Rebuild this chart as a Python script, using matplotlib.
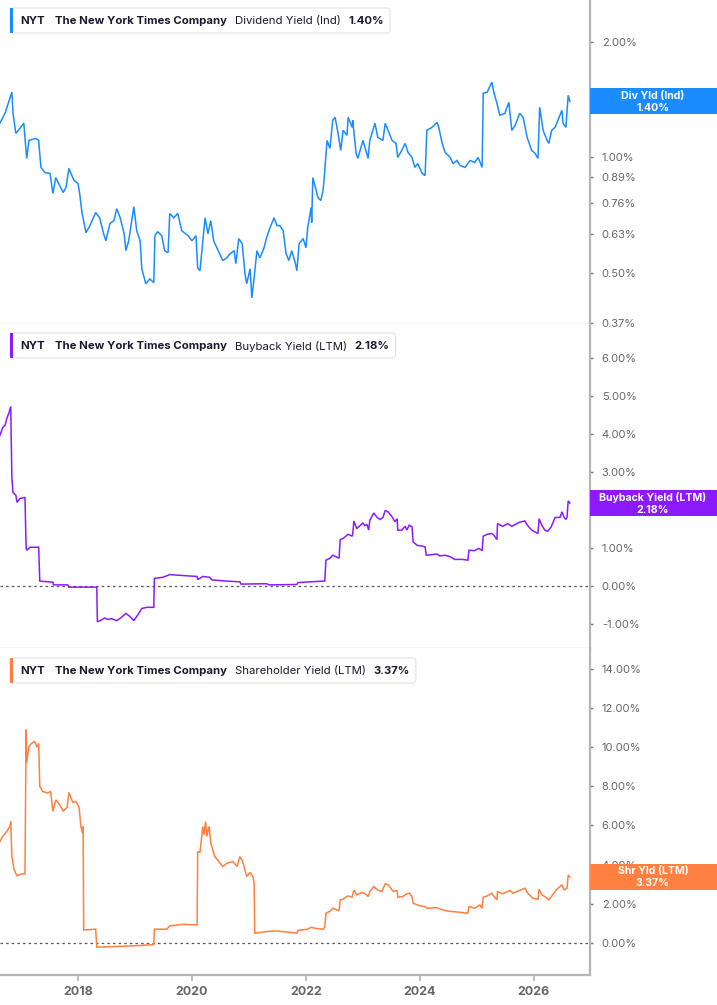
import matplotlib
matplotlib.use("Agg")
import matplotlib.pyplot as plt
from matplotlib.patches import Rectangle, FancyBboxPatch
from matplotlib.ticker import NullLocator, FuncFormatter, FixedLocator

plt.rcParams['font.family'] = ['Inter', 'DejaVu Sans']

# ---------------- data (decimal years, yield in %) ----------------
div_years = [2016.63, 2016.72, 2016.84, 2016.86, 2016.91, 2016.98, 2017.05, 2017.10, 2017.14, 2017.26,
             2017.31, 2017.35, 2017.42, 2017.51, 2017.56, 2017.61, 2017.74, 2017.79, 2017.84, 2017.93,
             2018.00, 2018.03, 2018.07, 2018.14, 2018.21, 2018.31, 2018.38, 2018.45, 2018.49, 2018.56,
             2018.63, 2018.68, 2018.74, 2018.81, 2018.84, 2018.89, 2018.98, 2019.03, 2019.09, 2019.12,
             2019.19, 2019.26, 2019.33, 2019.35, 2019.40, 2019.47, 2019.52, 2019.58, 2019.61, 2019.68,
             2019.75, 2019.82, 2019.93, 2020.00, 2020.07, 2020.10, 2020.14, 2020.19, 2020.23, 2020.28,
             2020.33, 2020.38, 2020.46, 2020.54, 2020.61, 2020.67, 2020.74, 2020.77, 2020.82, 2020.88,
             2020.93, 2020.96, 2021.02, 2021.05, 2021.09, 2021.14, 2021.19, 2021.26, 2021.31, 2021.37,
             2021.44, 2021.49, 2021.54, 2021.60, 2021.65, 2021.70, 2021.75, 2021.81, 2021.84, 2021.88,
             2021.95, 2022.00, 2022.03, 2022.09, 2022.10, 2022.12, 2022.21, 2022.26, 2022.30, 2022.33,
             2022.37, 2022.42, 2022.47, 2022.51, 2022.56, 2022.61, 2022.65, 2022.72, 2022.74, 2022.81,
             2022.82, 2022.88, 2022.91, 2023.00, 2023.05, 2023.09, 2023.12, 2023.21, 2023.26, 2023.35,
             2023.39, 2023.44, 2023.51, 2023.58, 2023.61, 2023.68, 2023.74, 2023.79, 2023.86, 2023.91,
             2023.96, 2024.04, 2024.09, 2024.12, 2024.21, 2024.30, 2024.33, 2024.39, 2024.44, 2024.53,
             2024.58, 2024.65, 2024.70, 2024.79, 2024.88, 2024.96, 2025.02, 2025.09, 2025.11, 2025.18,
             2025.21, 2025.26, 2025.30, 2025.35, 2025.40, 2025.49, 2025.56, 2025.61, 2025.67, 2025.75,
             2025.81, 2025.88, 2025.96, 2026.02, 2026.07, 2026.10, 2026.16, 2026.23, 2026.26, 2026.31,
             2026.37, 2026.42, 2026.49, 2026.51, 2026.56, 2026.60, 2026.63]
div_yield = [1.228, 1.304, 1.480, 1.304, 1.155, 1.191, 1.228, 0.994, 1.108, 1.121,
             1.108, 0.942, 0.913, 0.908, 0.805, 0.886, 0.810, 0.835, 0.936, 0.871,
             0.855, 0.805, 0.718, 0.636, 0.664, 0.718, 0.696, 0.632, 0.606, 0.672,
             0.684, 0.735, 0.696, 0.632, 0.571, 0.606, 0.744, 0.644, 0.606, 0.512,
             0.468, 0.482, 0.471, 0.625, 0.640, 0.625, 0.571, 0.564, 0.714, 0.696,
             0.714, 0.644, 0.625, 0.606, 0.625, 0.515, 0.506, 0.606, 0.696, 0.632,
             0.684, 0.606, 0.571, 0.538, 0.547, 0.561, 0.571, 0.528, 0.614, 0.596,
             0.497, 0.468, 0.512, 0.430, 0.485, 0.571, 0.547, 0.578, 0.618, 0.656,
             0.696, 0.664, 0.664, 0.644, 0.561, 0.538, 0.571, 0.532, 0.506, 0.596,
             0.614, 0.581, 0.656, 0.740, 0.676, 0.886, 0.786, 0.772, 0.820, 0.925,
             1.108, 1.056, 1.250, 1.273, 1.163, 1.043, 1.177, 1.142, 1.273, 1.198,
             1.250, 1.024, 0.994, 1.108, 1.043, 0.994, 1.108, 1.228, 1.128, 1.108,
             1.228, 1.177, 1.108, 1.088, 1.000, 1.043, 1.088, 1.031, 1.000, 0.942,
             0.964, 0.908, 0.897, 1.177, 1.198, 1.235, 1.198, 1.088, 1.031, 1.000,
             0.964, 0.982, 0.953, 0.942, 0.982, 0.970, 1.000, 0.942, 1.471, 1.480,
             1.516, 1.572, 1.471, 1.385, 1.288, 1.304, 1.393, 1.177, 1.213, 1.304,
             1.273, 1.128, 1.043, 1.024, 0.994, 1.352, 1.177, 1.108, 1.088, 1.177,
             1.198, 1.250, 1.327, 1.228, 1.198, 1.453, 1.400]

buy_years = [2016.63, 2016.68, 2016.72, 2016.75, 2016.79, 2016.82, 2016.84, 2016.86, 2016.91, 2016.93,
             2016.98, 2017.07, 2017.09, 2017.10, 2017.16, 2017.31, 2017.33, 2017.56, 2017.57, 2017.82,
             2017.84, 2018.33, 2018.34, 2018.38, 2018.47, 2018.52, 2018.59, 2018.68, 2018.75, 2018.84,
             2018.91, 2018.98, 2019.05, 2019.12, 2019.21, 2019.33, 2019.34, 2019.49, 2019.61, 2019.91,
             2020.09, 2020.10, 2020.19, 2020.31, 2020.35, 2020.61, 2020.84, 2020.86, 2021.31, 2021.35,
             2021.84, 2021.86, 2022.07, 2022.33, 2022.35, 2022.42, 2022.47, 2022.54, 2022.58, 2022.60,
             2022.65, 2022.70, 2022.74, 2022.81, 2022.82, 2022.84, 2022.89, 2022.95, 2023.00, 2023.03,
             2023.07, 2023.10, 2023.12, 2023.19, 2023.25, 2023.30, 2023.35, 2023.39, 2023.44, 2023.51,
             2023.56, 2023.60, 2023.61, 2023.68, 2023.74, 2023.77, 2023.81, 2023.86, 2023.88, 2023.95,
             2024.04, 2024.09, 2024.11, 2024.30, 2024.35, 2024.44, 2024.53, 2024.61, 2024.74, 2024.84,
             2024.86, 2024.96, 2025.03, 2025.09, 2025.11, 2025.18, 2025.26, 2025.30, 2025.35, 2025.36,
             2025.45, 2025.54, 2025.61, 2025.75, 2025.84, 2025.89, 2025.96, 2026.07, 2026.09, 2026.14,
             2026.19, 2026.24, 2026.30, 2026.37, 2026.46, 2026.49, 2026.53, 2026.56, 2026.58, 2026.60,
             2026.63]
buy_yield = [3.96, 4.17, 4.22, 4.40, 4.56, 4.72, 2.86, 2.46, 2.39, 2.20,
             2.30, 2.33, 1.02, 0.94, 1.02, 1.02, 0.13, 0.10, 0.03, 0.03,
             -0.03, -0.03, -0.94, -0.92, -0.84, -0.88, -0.86, -0.91, -0.84, -0.72,
             -0.80, -0.91, -0.76, -0.59, -0.56, -0.56, 0.20, 0.23, 0.30, 0.27,
             0.25, 0.17, 0.25, 0.23, 0.16, 0.13, 0.11, 0.05, 0.06, 0.03,
             0.04, 0.09, 0.11, 0.13, 0.68, 0.73, 0.81, 0.76, 0.73, 1.22,
             1.25, 1.31, 1.36, 1.31, 1.36, 1.71, 1.51, 1.59, 1.66, 1.59,
             1.62, 1.47, 1.73, 1.92, 1.80, 1.75, 1.80, 1.99, 1.95, 1.82,
             1.69, 1.77, 1.47, 1.47, 1.57, 1.47, 1.60, 1.56, 1.16, 1.07,
             1.05, 1.03, 0.81, 0.84, 0.79, 0.81, 0.77, 0.70, 0.70, 0.68,
             0.94, 0.93, 0.99, 0.93, 1.31, 1.36, 1.38, 1.33, 1.22, 1.64,
             1.57, 1.64, 1.57, 1.68, 1.71, 1.59, 1.47, 1.38, 1.77, 1.59,
             1.47, 1.44, 1.55, 1.80, 1.81, 1.95, 1.80, 1.75, 1.81, 2.24,
             2.18]

shr_years = [2016.63, 2016.68, 2016.75, 2016.81, 2016.82, 2016.84, 2016.88, 2016.93, 2017.02, 2017.07,
             2017.09, 2017.10, 2017.14, 2017.19, 2017.24, 2017.28, 2017.31, 2017.33, 2017.38, 2017.47,
             2017.52, 2017.56, 2017.61, 2017.68, 2017.74, 2017.81, 2017.84, 2017.91, 2017.96, 2018.02,
             2018.05, 2018.08, 2018.09, 2018.10, 2018.31, 2018.33, 2018.61, 2018.96, 2019.33, 2019.34,
             2019.56, 2019.61, 2019.84, 2020.09, 2020.10, 2020.14, 2020.19, 2020.21, 2020.24, 2020.26,
             2020.30, 2020.33, 2020.40, 2020.47, 2020.54, 2020.61, 2020.72, 2020.79, 2020.84, 2020.89,
             2020.96, 2021.02, 2021.07, 2021.09, 2021.10, 2021.31, 2021.49, 2021.84, 2021.86, 2022.03,
             2022.09, 2022.19, 2022.30, 2022.33, 2022.35, 2022.42, 2022.47, 2022.54, 2022.58, 2022.60,
             2022.65, 2022.70, 2022.74, 2022.81, 2022.84, 2022.89, 2022.98, 2023.03, 2023.09, 2023.12,
             2023.19, 2023.25, 2023.33, 2023.39, 2023.44, 2023.53, 2023.60, 2023.61, 2023.70, 2023.77,
             2023.82, 2023.86, 2023.88, 2024.00, 2024.09, 2024.12, 2024.30, 2024.39, 2024.53, 2024.65,
             2024.84, 2024.86, 2024.96, 2025.05, 2025.09, 2025.11, 2025.18, 2025.26, 2025.30, 2025.35,
             2025.36, 2025.45, 2025.58, 2025.63, 2025.75, 2025.84, 2025.89, 2025.98, 2026.07, 2026.09,
             2026.14, 2026.23, 2026.26, 2026.33, 2026.40, 2026.49, 2026.53, 2026.58, 2026.60, 2026.63]
shr_yield = [5.18, 5.44, 5.69, 5.98, 6.20, 4.41, 3.73, 3.43, 3.53, 3.53,
             10.90, 9.19, 10.04, 10.21, 10.30, 10.00, 10.20, 8.00, 7.74, 7.66,
             7.74, 6.72, 7.31, 7.06, 6.72, 6.93, 7.69, 7.18, 7.23, 6.93,
             5.95, 5.61, 5.95, 0.66, 0.70, -0.22, -0.19, -0.15, -0.09, 0.70,
             0.70, 0.87, 0.95, 0.92, 4.67, 4.62, 5.95, 5.52, 6.20, 5.44,
             5.95, 5.10, 4.41, 4.16, 3.90, 4.07, 4.16, 3.90, 4.41, 4.16,
             3.39, 3.60, 3.39, 3.05, 0.50, 0.58, 0.61, 0.50, 0.64, 0.70,
             0.80, 0.73, 0.70, 0.80, 1.52, 1.61, 1.77, 1.69, 1.64, 2.20,
             2.23, 2.34, 2.40, 2.34, 2.71, 2.46, 2.57, 2.54, 2.37, 2.63,
             2.88, 2.71, 2.63, 3.02, 2.97, 2.63, 2.68, 2.34, 2.37, 2.51,
             2.54, 2.37, 2.03, 1.89, 1.86, 1.77, 1.80, 1.69, 1.61, 1.58,
             1.52, 1.86, 1.77, 1.94, 1.77, 2.34, 2.40, 2.54, 2.37, 2.20,
             2.63, 2.51, 2.68, 2.54, 2.68, 2.80, 2.54, 2.28, 2.23, 2.74,
             2.46, 2.28, 2.20, 2.46, 2.74, 2.97, 2.71, 2.80, 3.47, 3.37]

div_ticks = [0.37, 0.50, 0.63, 0.76, 0.89, 1.00, 2.00]
buy_ticks = [-1, 0, 1, 2, 3, 4, 5, 6]
shr_ticks = [0, 2, 4, 6, 8, 10, 12, 14]
x_ticks = [2018, 2020, 2022, 2024, 2026]

ticker = "NYT"
company = "The New York Times Company"
metric_names = ["Dividend Yield (Ind)", "Buyback Yield (LTM)", "Shareholder Yield (LTM)"]
short_names = ["Div Yld (Ind)", "Buyback Yield (LTM)", "Shr Yld (LTM)"]
last_values = [1.40, 2.18, 3.37]

# ---------------- styling ----------------
colors = ["#1a8cff", "#8c1aff", "#ff8040"]
W, H = 717, 1005
fig = plt.figure(figsize=(W / 100, H / 100), dpi=100)
fig.patch.set_facecolor("white")

def fx(px):
    return px / W

def fy(py):  # from top pixel
    return 1 - py / H

plot_right = 590
panels = [(0, 324), (324, 648), (648, 975)]
axes = []
for top, bot in panels:
    ax = fig.add_axes([0, fy(bot), fx(plot_right), (bot - top) / H])
    axes.append(ax)

xmin = 2016.632
xmax = xmin + plot_right / 57.0

series = [(div_years, div_yield), (buy_years, buy_yield), (shr_years, shr_yield)]
ylims = [(0.3675, 2.576), (-1.63, 6.89), (-1.64, 15.07)]
yticks_list = [div_ticks, buy_ticks, shr_ticks]

for i, ax in enumerate(axes):
    xs, ys = series[i]
    ax.plot(xs, ys, color=colors[i], lw=1.1, solid_joinstyle="miter")
    if i == 0:
        ax.set_yscale("log")
        ax.yaxis.set_minor_locator(NullLocator())
    else:
        ax.axhline(0, color="#555555", lw=0.9, ls=(0, (2, 2.5)), zorder=1)
    ax.set_xlim(xmin, xmax)
    ax.set_ylim(*ylims[i])
    ax.yaxis.set_major_locator(FixedLocator(yticks_list[i]))
    ax.yaxis.set_major_formatter(FuncFormatter(lambda v, p: f"{v:.2f}%"))
    ax.yaxis.tick_right()
    ax.tick_params(axis="y", which="major", direction="out", length=2.5, width=1,
                   color="#777777", labelcolor="#666666", labelsize=8, pad=6)
    for s in ["left", "top"]:
        ax.spines[s].set_visible(False)
    ax.spines["right"].set_color("#b5b5b5")
    ax.spines["right"].set_linewidth(1.6)
    if i < 2:
        ax.spines["bottom"].set_color("#cccccc")
        ax.spines["bottom"].set_linewidth(1.0)
        ax.set_xticks([])
    else:
        ax.spines["bottom"].set_color("#b5b5b5")
        ax.spines["bottom"].set_linewidth(1.6)
        ax.set_xticks(x_ticks)
        ax.set_xticklabels([str(t) for t in x_ticks], fontweight="bold")
        ax.tick_params(axis="x", direction="out", length=4, width=1.2, color="#b5b5b5",
                       labelcolor="#666666", labelsize=9, pad=4)
    ax.set_facecolor("white")

# ---------------- value labels on the right axis ----------------
for i, ax in enumerate(axes):
    disp = ax.transData.transform((xmax, last_values[i]))
    ycen = disp[1] / H
    bh = 26 / H
    fig.add_artist(Rectangle((fx(plot_right), ycen - bh / 2), fx(W - plot_right), bh,
                             transform=fig.transFigure, facecolor=colors[i], edgecolor="none",
                             zorder=5))
    fig.text(fx(653), ycen + 5.5 / H, short_names[i], color="white", fontsize=7.6,
             fontweight="bold", ha="center", va="center", zorder=6)
    fig.text(fx(653), ycen - 6.5 / H, f"{last_values[i]:.2f}%", color="white", fontsize=7.6,
             fontweight="bold", ha="center", va="center", zorder=6)

# ---------------- legend boxes (laid out left to right) ----------------
renderer = fig.canvas.get_renderer()
legend_tops = [8, 333, 658]
fs = 8.2
for i in range(3):
    top = legend_tops[i]
    bot = top + 25
    yc = fy(top + 13)
    pieces = [(ticker, "bold", 10), (company, "bold", 8),
              (metric_names[i], "normal", 8), (f"{last_values[i]:.2f}%", "bold", 6)]
    xpos = 20.0
    for txt, wt, gap in pieces:
        t = fig.text(fx(xpos), yc, txt, fontsize=fs, fontweight=wt, color="#1a1a2e",
                     ha="left", va="center", zorder=9)
        bb = t.get_window_extent(renderer=renderer)
        xpos = bb.x1 + gap
    right = xpos
    box = FancyBboxPatch((fx(10), fy(bot)), fx(right - 10), 25 / H,
                         boxstyle="round,pad=0,rounding_size=0.004",
                         transform=fig.transFigure, facecolor="white",
                         edgecolor="#e3e3e3", lw=0.8, zorder=7)
    fig.add_artist(box)
    fig.add_artist(Rectangle((fx(10), fy(bot)), fx(3), 25 / H, transform=fig.transFigure,
                             facecolor=colors[i], edgecolor="none", zorder=8))

fig.savefig("out.png", dpi=100, facecolor="white")
